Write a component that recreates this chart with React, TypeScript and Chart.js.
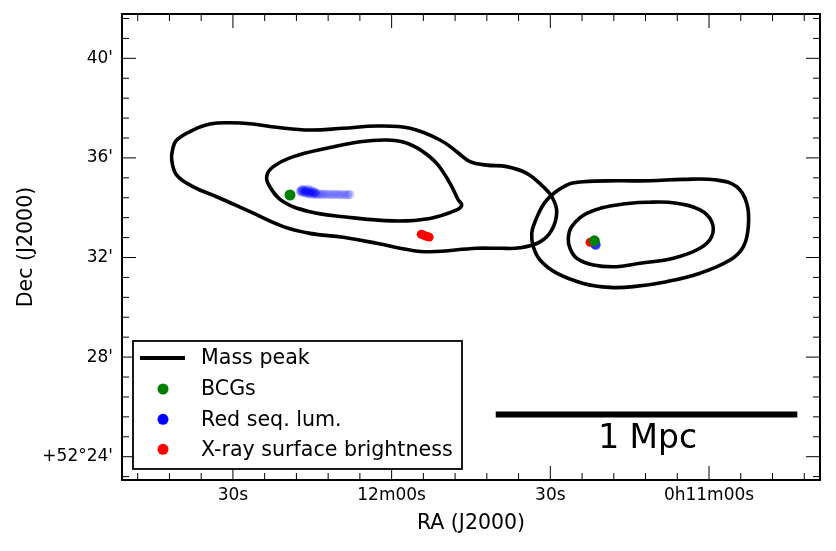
import React, { useEffect, useRef } from 'react';
import { Chart, registerables } from 'chart.js';

Chart.register(...registerables);

// ---- Data (x: RA seconds after 0h11m00s, y: Dec arcmin after +52°00') ----
const xTickValues = [0, 30, 60, 90];
const xTickLabels = ['0h11m00s', '30s', '12m00s', '30s'];
const yTickValues = [24, 28, 32, 36, 40];
const yTickLabels = ["+52°24'", "28'", "32'", "36'", "40'"];

const legendLabels = ['Mass peak', 'BCGs', 'Red seq. lum.', 'X-ray surface brightness'];
const legendColors = ['#000000', '#008000', '#0000ff', '#ff0000'];

// closed mass contours (first point repeated at the end)
const massOuterWest: number[][] = [
  [75.43, 37.12], [69.19, 37.19], [62.82, 37.28], [56.52, 37.19],
  [50.85, 36.72], [47.69, 36.25], [45.18, 35.85], [42.02, 35.71], [38.24, 35.65],
  [34.46, 35.38], [31.32, 34.84], [29.68, 34.43], [28.79, 33.84], [29.74, 33.1],
  [31.95, 32.63], [35.73, 32.39], [39.51, 32.37], [43.91, 32.37], [52.74, 32.23],
  [56.52, 32.3], [62.82, 32.57], [69.13, 32.81], [75.43, 32.97], [80.47, 33.24],
  [86.77, 33.84], [93.07, 34.44], [97.49, 34.84], [100.63, 35.31], [101.57, 35.92],
  [101.42, 36.32], [100.63, 36.72], [97.54, 37.12], [94.33, 37.36], [90.55, 37.41],
  [86.2, 37.36], [81.72, 37.23], [75.43, 37.12],
];
const massInnerWest: number[][] = [
  [65.97, 36.65], [60.93, 36.72], [57.47, 36.62], [54.25, 36.28], [51.48, 35.78],
  [48.96, 34.98], [47.39, 34.31], [46.75, 34.11], [47.69, 33.91], [52.74, 33.57],
  [59.68, 33.47], [69.13, 33.64], [75.43, 33.84], [80.47, 34.24], [82.99, 34.83],
  [83.61, 35.27], [82.36, 35.65], [78.58, 36.05], [72.27, 36.39], [65.97, 36.65],
];
const massOuterEast: number[][] = [
  [11.15, 35.08], [4.86, 35.14], [-1.46, 35.11], [-5.24, 34.84], [-7.13, 34.18],
  [-7.43, 33.24], [-6.48, 32.43], [-3.97, 31.9], [1.7, 31.37], [8.0, 31.03],
  [14.31, 30.83], [18.71, 30.8], [23.76, 30.96], [28.79, 31.37], [31.95, 31.9],
  [33.21, 32.43], [33.52, 32.97], [32.89, 33.44], [30.68, 34.31], [26.9, 34.91],
  [23.76, 35.04], [17.5, 35.08], [11.15, 35.08],
];
const massInnerEast: number[][] = [
  [11.15, 34.22], [6.11, 34.18], [1.7, 33.91], [-0.51, 33.44], [-0.51, 32.84],
  [1.7, 32.37], [6.75, 31.97], [13.04, 31.77], [17.45, 31.63], [21.87, 31.7],
  [25.01, 31.97], [26.28, 32.37], [26.6, 32.77], [25.96, 33.24], [23.12, 33.77],
  [17.45, 34.11], [11.15, 34.22],
];

const bcgPoints: number[][] = [[79.21, 34.51], [21.68, 32.67]];
const redSeqWest: number[][] = [
  [77.3, 34.66], [77.1, 34.68], [77.0, 34.62], [76.9, 34.74], [76.8, 34.7],
  [76.6, 34.66], [76.5, 34.6], [76.4, 34.72], [76.3, 34.64], [76.1, 34.58],
  [76.0, 34.68], [75.9, 34.62], [75.8, 34.74], [75.7, 34.56], [75.6, 34.66],
  [75.4, 34.6], [75.3, 34.55], [75.2, 34.7], [75.1, 34.63], [74.9, 34.57],
  [74.8, 34.64], [74.7, 34.54], [74.5, 34.6], [74.4, 34.62], [74.3, 34.55],
  [74.0, 34.53], [73.6, 34.56], [73.2, 34.52], [72.8, 34.55], [72.3, 34.53],
  [71.8, 34.54], [71.3, 34.52], [70.8, 34.54], [70.3, 34.53], [69.8, 34.52],
  [69.3, 34.53], [68.8, 34.52], [68.3, 34.52], [67.9, 34.53],
];
const redSeqEast: number[][] = [[21.42, 32.5], [21.5, 32.53]];
const xrayPoints: number[][] = [
  [54.4, 32.93], [53.9, 32.89], [53.4, 32.85], [52.9, 32.82], [22.5, 32.61],
];

const scaleBar: number[][] = [[40.32, 25.69], [-16.69, 25.69]];
const scaleBarLabel = '1 Mpc';
const scaleBarLabelPos = [11.6, 24.71];

const X_MIN = -20.98;
const X_MAX = 110.97;
const Y_MIN = 23.064;
const Y_MAX = 41.78;

const toXY = (arr: number[][]) => arr.map(([x, y]) => ({ x, y }));
const FONT = '"DejaVu Sans", "Liberation Sans", sans-serif';

const near = (v: number, t: number) => Math.abs(v - t) < 1e-6;
const xLabel = (v: number) => {
  const i = xTickValues.findIndex((t) => near(v, t));
  return i >= 0 ? xTickLabels[i] : '';
};
const yLabel = (v: number) => {
  const i = yTickValues.findIndex((t) => near(v, t));
  return i >= 0 ? yTickLabels[i] : '';
};

const decorPlugin = {
  id: 'decor',
  afterDatasetsDraw(chart: any) {
    const { ctx, chartArea: a, scales } = chart;
    const xs = scales.x;
    const ys = scales.y;
    ctx.save();
    // inward ticks on all four sides
    ctx.strokeStyle = '#000';
    ctx.lineWidth = 1;
    xs.ticks.forEach((t: any) => {
      const px = xs.getPixelForValue(t.value);
      const len = xLabel(t.value) ? 14 : 7;
      ctx.beginPath();
      ctx.moveTo(px, a.bottom);
      ctx.lineTo(px, a.bottom - len);
      ctx.moveTo(px, a.top);
      ctx.lineTo(px, a.top + len);
      ctx.stroke();
    });
    ys.ticks.forEach((t: any) => {
      const py = ys.getPixelForValue(t.value);
      const len = yLabel(t.value) ? 14 : 7;
      ctx.beginPath();
      ctx.moveTo(a.left, py);
      ctx.lineTo(a.left + len, py);
      ctx.moveTo(a.right, py);
      ctx.lineTo(a.right - len, py);
      ctx.stroke();
    });
    // frame
    ctx.lineWidth = 2;
    ctx.strokeRect(a.left, a.top, a.right - a.left, a.bottom - a.top);

    // scale bar label
    ctx.fillStyle = '#000';
    ctx.font = `33px ${FONT}`;
    ctx.textAlign = 'center';
    ctx.textBaseline = 'middle';
    ctx.fillText(
      scaleBarLabel,
      xs.getPixelForValue(scaleBarLabelPos[0]),
      ys.getPixelForValue(scaleBarLabelPos[1])
    );

    // legend box
    const lx = a.left + 11;
    const ly = a.top + 327;
    const lw = 329;
    const lh = 128;
    ctx.fillStyle = '#fff';
    ctx.fillRect(lx, ly, lw, lh);
    ctx.lineWidth = 1.8;
    ctx.strokeStyle = '#000';
    ctx.strokeRect(lx, ly, lw, lh);
    const rowY = [17, 48, 78.3, 108.3];
    ctx.font = `20.6px ${FONT}`;
    ctx.textAlign = 'left';
    ctx.textBaseline = 'middle';
    legendLabels.forEach((lab, i) => {
      const cy = ly + rowY[i];
      if (i === 0) {
        ctx.strokeStyle = legendColors[i];
        ctx.lineWidth = 4;
        ctx.beginPath();
        ctx.moveTo(lx + 7, cy);
        ctx.lineTo(lx + 52, cy);
        ctx.stroke();
      } else {
        ctx.fillStyle = legendColors[i];
        ctx.beginPath();
        ctx.arc(lx + 30, cy, 5.5, 0, Math.PI * 2);
        ctx.fill();
      }
      ctx.fillStyle = '#000';
      ctx.fillText(lab, lx + 68, cy + 1);
    });
    ctx.restore();
  },
};

// closed smooth contour: wrap one point on each side, hide the wrap segments
const contour = (pts: number[][]) => {
  const ring = pts.slice(0, -1);
  const n = ring.length;
  const seq = [ring[n - 1], ...ring, ring[0], ring[1]];
  const last = seq.length - 1;
  return {
    data: toXY(seq),
    showLine: true,
    borderColor: '#000',
    borderWidth: 3.6,
    pointRadius: 0,
    tension: 0.4,
    fill: false,
    segment: {
      borderColor: (c: any) =>
        c.p0DataIndex === 0 || c.p1DataIndex === last ? 'rgba(0,0,0,0)' : '#000',
    },
  };
};

export default function App() {
  const ref = useRef<HTMLCanvasElement | null>(null);

  useEffect(() => {
    if (!ref.current) return;
    Chart.defaults.font.family = FONT;
    Chart.defaults.color = '#000';
    const chart = new Chart(ref.current, {
      type: 'scatter',
      data: {
        datasets: [
          {
            data: toXY(bcgPoints),
            backgroundColor: '#008000',
            borderWidth: 0,
            pointRadius: 5.5,
          },
          {
            data: toXY(xrayPoints),
            backgroundColor: '#ff0000',
            borderWidth: 0,
            pointRadius: 4.5,
          },
          {
            data: toXY(redSeqEast),
            backgroundColor: 'rgba(0,0,255,0.6)',
            borderWidth: 0,
            pointRadius: 5,
          },
          {
            data: toXY(redSeqWest),
            backgroundColor: 'rgba(0,0,255,0.22)',
            borderWidth: 0,
            pointRadius: 4.5,
          },
          {
            data: toXY(scaleBar),
            showLine: true,
            borderColor: '#000',
            borderWidth: 6,
            borderCapStyle: 'butt',
            pointRadius: 0,
          },
          contour(massOuterWest),
          contour(massInnerWest),
          contour(massOuterEast),
          contour(massInnerEast),
        ] as any,
      },
      options: {
        responsive: false,
        animation: false,
        events: [],
        layout: { padding: { top: 14, right: 16, left: 0, bottom: 0 } },
        plugins: {
          legend: { display: false },
          tooltip: { enabled: false },
        },
        scales: {
          x: {
            type: 'linear',
            reverse: true,
            min: X_MIN,
            max: X_MAX,
            grid: { display: false, drawTicks: false },
            border: { display: false },
            ticks: {
              stepSize: 6,
              includeBounds: false,
              autoSkip: false,
              maxRotation: 0,
              padding: 5,
              color: '#000',
              font: { size: 17 },
              callback: (v: any) => xLabel(Number(v)),
            },
            title: {
              display: true,
              text: 'RA (J2000)',
              color: '#000',
              font: { size: 20.5 },
              padding: { top: 0, bottom: 15 },
            },
            afterFit: (s: any) => {
              s.height = 71;
              s.paddingLeft = 0;
              s.paddingRight = 0;
            },
          },
          y: {
            type: 'linear',
            min: Y_MIN,
            max: Y_MAX,
            grid: { display: false, drawTicks: false },
            border: { display: false },
            ticks: {
              stepSize: 0.8,
              includeBounds: false,
              autoSkip: false,
              padding: 9,
              color: '#000',
              font: { size: 17 },
              callback: (v: any) => yLabel(Number(v)),
            },
            title: {
              display: true,
              text: 'Dec (J2000)',
              color: '#000',
              font: { size: 20.5 },
              padding: { top: 14, bottom: 0 },
            },
            afterFit: (s: any) => {
              s.width = 122;
              s.paddingTop = 0;
              s.paddingBottom = 0;
            },
          },
        },
      } as any,
      plugins: [decorPlugin],
    });
    return () => chart.destroy();
  }, []);

  return (
    <div style={{ position: 'absolute', left: 0, top: 0, width: 836, height: 551, background: '#fff' }}>
      <canvas ref={ref} width={836} height={551} style={{ display: 'block' }} />
    </div>
  );
}
